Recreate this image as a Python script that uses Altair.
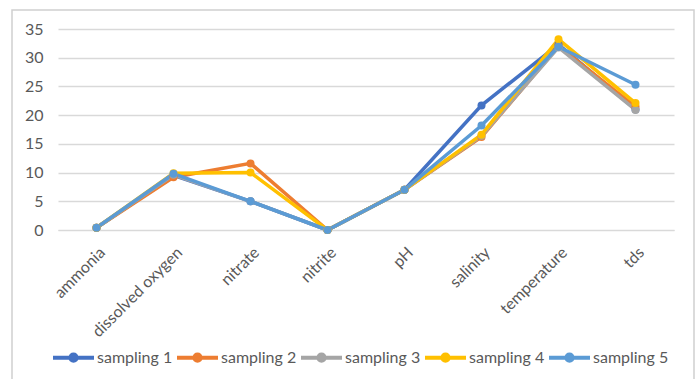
import altair as alt
import pandas as pd

# Water-quality parameters measured across five sampling rounds
parameters = ["ammonia", "dissolved oxygen", "nitrate", "nitrite", "pH",
              "salinity", "temperature", "tds"]
sampling_1 = [0.4, 9.5, 5.0, 0.0, 7.0, 21.7, 32.3, 21.0]
sampling_2 = [0.4, 9.2, 11.6, 0.0, 7.0, 16.2, 32.0, 21.5]
sampling_3 = [0.4, 9.6, 5.0, 0.0, 7.0, 16.4, 31.8, 20.9]
sampling_4 = [0.4, 9.9, 10.0, 0.0, 7.0, 16.6, 33.2, 22.1]
sampling_5 = [0.4, 9.8, 5.0, 0.0, 7.0, 18.2, 31.9, 25.3]

series_names = ["sampling 1", "sampling 2", "sampling 3", "sampling 4", "sampling 5"]
series_values = [sampling_1, sampling_2, sampling_3, sampling_4, sampling_5]
series_colors = ["#4472C4", "#ED7D31", "#A5A5A5", "#FFC000", "#5B9BD5"]

rows = []
for name, vals in zip(series_names, series_values):
    for p, v in zip(parameters, vals):
        rows.append({"parameter": p, "value": v, "series": name})
df = pd.DataFrame(rows)

FONT = "Lato"
GREY_TEXT = "#595959"
GRID = "#D9D9D9"

# legend glyph: a line with a dot in the middle
half = 1.52
r = 0.23
legend_symbol = (f"M-{half},0L{half},0M-{r},0A{r},{r},0,1,1,{r},0"
                 f"A{r},{r},0,1,1,-{r},0Z")

color = alt.Color(
    "series:N",
    scale=alt.Scale(domain=series_names, range=series_colors),
    legend=alt.Legend(
        title=None,
        orient="none",
        legendX=0,
        legendY=313,
        direction="horizontal",
        columns=5,
        symbolType=legend_symbol,
        symbolSize=729,
        symbolStrokeWidth=4,
        symbolOpacity=1,
        labelFont=FONT,
        labelFontSize=16,
        labelColor=GREY_TEXT,
        labelOffset=8,
        columnPadding=-5,
    ),
)

x_enc = alt.X(
    "parameter:N",
    sort=parameters,
    scale=alt.Scale(type="point", padding=0.5),
    axis=alt.Axis(
        title=None,
        labelAngle=-45,
        labelFont=FONT,
        labelFontSize=16,
        labelColor=GREY_TEXT,
        labelPadding=14,
        ticks=False,
        domainColor=GRID,
        grid=False,
    ),
)
y_enc = alt.Y(
    "value:Q",
    scale=alt.Scale(domain=[0, 35], nice=False),
    axis=alt.Axis(
        title=None,
        values=[0, 5, 10, 15, 20, 25, 30, 35],
        labelFont=FONT,
        labelFontSize=16,
        labelColor=GREY_TEXT,
        labelPadding=15,
        ticks=False,
        domain=False,
        gridColor=GRID,
        gridWidth=1.3,
    ),
)

base = alt.Chart(df).encode(x=x_enc, y=y_enc, color=color)
lines = base.mark_line(strokeWidth=3.5)
dots = base.mark_circle(size=64, opacity=1)

# light chart-area border
frame = alt.Chart(pd.DataFrame({"k": [0]})).mark_rect(
    fillOpacity=0, stroke="#D0D0D0", strokeWidth=1.5
).encode(
    x=alt.value(-46), x2=alt.value(636), y=alt.value(-19), y2=alt.value(370)
)

chart = alt.layer(frame, lines, dots).properties(
    width=616,
    height=201,
    autosize=alt.AutoSizeParams(type="none"),
    padding={"left": 58, "top": 29, "right": 23, "bottom": 149},
    background="white",
).configure_view(stroke=None)

chart.save("out.html", embed_options={"renderer": "svg", "actions": False})
